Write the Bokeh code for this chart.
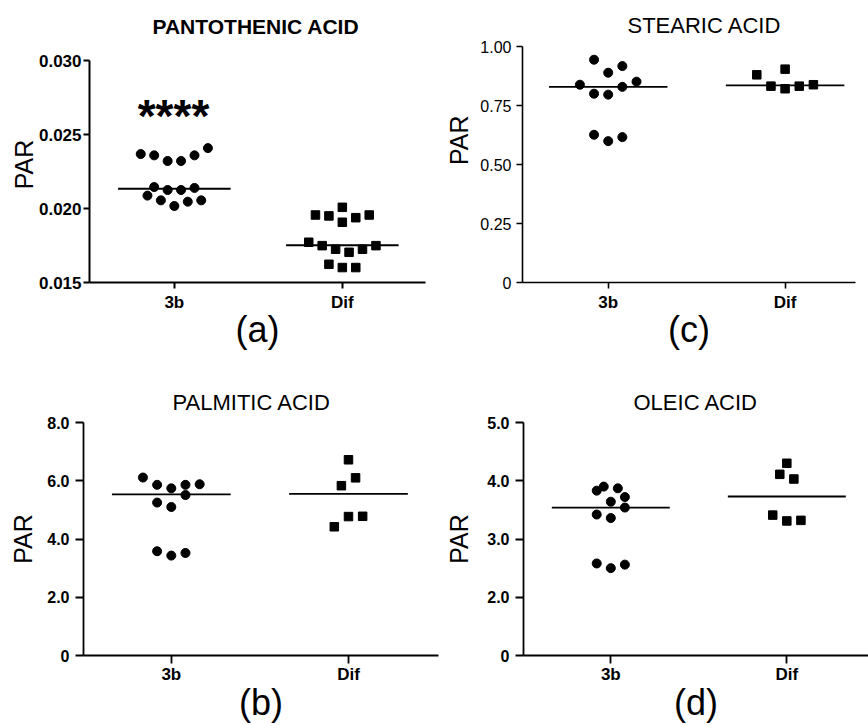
import math
from bokeh.plotting import figure
from bokeh.models import FixedTicker, Label
from bokeh.layouts import column, row
from bokeh.embed import file_html
from bokeh.resources import INLINE

# ---------------- data ----------------
groups = ["3b", "Dif"]

# (a) Pantothenic acid
pan_3b = [0.02368, 0.02359, 0.02321, 0.02321, 0.02359, 0.02408,
          0.02145, 0.02125, 0.02125, 0.02139,
          0.02087, 0.02055, 0.02017, 0.02046, 0.02055]
pan_3b_slot = [-5, -3, -1, 1, 3, 5, -3, -1, 1, 3, -4, -2, 0, 2, 4]
pan_dif = [0.01956, 0.01950, 0.02008, 0.01907, 0.01938, 0.01956,
           0.01772, 0.01749, 0.01725, 0.01704, 0.01725, 0.01749,
           0.01623, 0.01601, 0.01601]
pan_dif_slot = [-4, -2, 0, 0, 2, 4, -5, -3, -1, 1, 3, 5, -2, 0, 2]
pan_median = [0.02134, 0.01752]
pan_ticks = [0.015, 0.020, 0.025, 0.030]
pan_tick_labels = ["0.015", "0.020", "0.025", "0.030"]

# (c) Stearic acid
ste_3b = [0.944, 0.889, 0.917, 0.838, 0.829, 0.851, 0.800, 0.796, 0.626, 0.599, 0.616]
ste_3b_slot = [-2, 0, 2, -4, 2, 4, -2, 0, -2, 0, 2]
ste_dif = [0.880, 0.904, 0.832, 0.821, 0.832, 0.838]
ste_dif_slot = [-4, 0, -2, 0, 2, 4]
ste_median = [0.829, 0.835]
ste_ticks = [0, 0.25, 0.50, 0.75, 1.00]
ste_tick_labels = ["0", "0.25", "0.50", "0.75", "1.00"]

# (b) Palmitic acid
pal_3b = [6.11, 5.86, 5.74, 5.86, 5.88, 5.51, 5.25, 5.10, 3.58, 3.43, 3.52]
pal_3b_slot = [-4, -2, 0, 2, 4, 2, -2, 0, -2, 0, 2]
pal_dif = [6.72, 5.83, 6.10, 4.77, 4.78, 4.42]
pal_dif_slot = [0, -1, 1, 0, 2, -2]
pal_median = [5.53, 5.55]
pal_ticks = [0, 2, 4, 6, 8]
pal_tick_labels = ["0", "2.0", "4.0", "6.0", "8.0"]

# (d) Oleic acid
ole_3b = [3.83, 3.90, 3.87, 3.72, 3.64, 3.54, 3.42, 3.36, 2.58, 2.50, 2.56]
ole_3b_slot = [-2, -1, 1, 2, 0, 2, -2, 0, -2, 0, 2]
ole_dif = [4.30, 4.11, 4.03, 3.41, 3.31, 3.32]
ole_dif_slot = [0, -1, 1, -2, 0, 2]
ole_median = [3.54, 3.73]
ole_ticks = [1, 2, 3, 4, 5]
ole_tick_labels = ["0", "2.0", "3.0", "4.0", "5.0"]

titles = ["PANTOTHENIC ACID", "STEARIC ACID", "PALMITIC ACID", "OLEIC ACID"]
letters = ["(a)", "(c)", "(b)", "(d)"]
y_label = "PAR"
signif = "****"

# ---------------- styling ----------------
FONT = "Liberation Sans"
SLOT = 0.04
HALF = 0.335
NBSP = "\u00a0"


def make_panel(cfg):
    w, h = cfg["size"]
    bl, br, bt, bb = cfg["borders"]
    x0, x1 = cfg["xr"]
    y0, y1 = cfg["yr"]
    ox, oy = cfg["origin"]
    fw = w - bl - br
    fh = h - bt - bb

    def to_data(px, py):
        dx = x0 + (px - ox - bl) / fw * (x1 - x0)
        dy = y1 - (py - oy - bt) / fh * (y1 - y0)
        return dx, dy

    p = figure(width=w, height=h, x_range=(x0, x1), y_range=(y0, y1),
               output_backend="svg", toolbar_location=None,
               min_border_left=bl, min_border_right=br,
               min_border_top=bt, min_border_bottom=bb, title=cfg["title"])
    p.outline_line_color = None
    p.grid.visible = False
    p.background_fill_color = "white"
    p.border_fill_color = "white"

    p.title.align = "left"
    p.title.offset = cfg["title_offset"]
    p.title.standoff = cfg["title_standoff"]
    p.title.vertical_align = "bottom"
    p.title.text_font = FONT
    p.title.text_font_size = cfg["title_size"]
    p.title.text_font_style = cfg["title_style"]
    p.title.text_color = "black"

    xa = p.below[0]
    ya = p.left[0]
    for ax in (xa, ya):
        ax.axis_line_width = cfg["axis_w"]
        ax.axis_line_color = "black"
        ax.major_tick_line_width = cfg["axis_w"]
        ax.major_tick_line_color = "black"
        ax.major_tick_out = cfg["tick_len"]
        ax.major_tick_in = 0
        ax.minor_tick_line_color = None
        ax.major_label_text_color = "black"
        ax.major_label_text_font = FONT
        ax.axis_label_text_font = FONT
        ax.axis_label_text_font_style = "normal"
        ax.axis_label_text_color = "black"

    xa.ticker = FixedTicker(ticks=[1, 2])
    xa.major_label_overrides = {i + 1: g for i, g in enumerate(groups)}
    xa.major_label_text_font_size = "17px"
    xa.major_label_text_font_style = "bold"
    xa.major_label_standoff = cfg["xstand"]
    xa.axis_label = cfg["letter"]
    xa.axis_label_text_font_size = "36px"
    xa.axis_label_standoff = cfg["letter_standoff"]

    ya.ticker = FixedTicker(ticks=cfg["ticks"])
    ya.major_label_overrides = dict(zip(cfg["ticks"], cfg["tick_labels"]))
    ya.major_label_text_font_size = cfg["ytick_size"]
    ya.major_label_text_font_style = cfg["ytick_style"]
    ya.major_label_standoff = cfg["ystand"]
    ya.bounds = (cfg["ticks"][0], cfg["ticks"][-1])
    # leading no-break spaces shift the centred rotated title upward
    ya.axis_label = NBSP * cfg.get("ylabel_shift", 0) + y_label
    ya.axis_label_text_font_size = "25px"
    ya.axis_label_standoff = cfg["ylabel_standoff"]

    v3, s3, vd, sd = cfg["data"]
    p.scatter(x=[1 + s * SLOT for s in s3], y=v3, marker="circle",
              size=9, color="black")
    p.scatter(x=[2 + s * SLOT for s in sd], y=vd, marker="square",
              size=8.5, color="black")
    med = cfg["median"]
    p.segment(x0=[1 - HALF, 2 - HALF], x1=[1 + HALF, 2 + HALF],
              y0=med, y1=med, line_width=cfg["med_w"], color="black")

    if cfg.get("signif_px"):
        sx, sy = to_data(*cfg["signif_px"])
        p.add_layout(Label(x=sx, y=sy, text=signif, text_font=FONT,
                           text_font_size="46px", text_font_style="bold",
                           text_align="center", text_baseline="alphabetic",
                           text_color="black"))
    return p


# panel (a): frame extends above 0.030 to share the row's top edge,
# the y axis line itself is bounded to 0.015..0.030
pa = make_panel(dict(
    size=(440, 362), borders=(89, 15, 46, 80), xr=(0.495, 2.495),
    yr=(0.015, 0.030 + 14 / 14800), origin=(0, 0),
    ticks=pan_ticks, tick_labels=pan_tick_labels,
    ytick_size="17px", ytick_style="bold", ystand=2, xstand=4,
    axis_w=2, tick_len=6, med_w=2,
    data=(pan_3b, pan_3b_slot, pan_dif, pan_dif_slot), median=pan_median,
    title=titles[0], title_size="21px", title_style="bold",
    title_offset=63, title_standoff=17,
    letter=letters[0], letter_standoff=-6, ylabel_standoff=-2,
    ylabel_shift=0, signif_px=(173, 115.3)))

pc = make_panel(dict(
    size=(428, 362), borders=(82, 13, 46, 80), xr=(0.5155, 2.398),
    yr=(0.0, 1.0), origin=(440, 0),
    ticks=ste_ticks, tick_labels=ste_tick_labels,
    ytick_size="16px", ytick_style="normal", ystand=5, xstand=4,
    axis_w=1.6, tick_len=6, med_w=1.8,
    data=(ste_3b, ste_3b_slot, ste_dif, ste_dif_slot), median=ste_median,
    title=titles[1], title_size="22px", title_style="normal",
    title_offset=105, title_standoff=17,
    letter=letters[1], letter_standoff=-6, ylabel_standoff=4,
    ylabel_shift=7))

pb = make_panel(dict(
    size=(440, 363), borders=(83, 2, 60, 67), xr=(0.5045, 2.508),
    yr=(0.0, 8.0), origin=(0, 362),
    ticks=pal_ticks, tick_labels=pal_tick_labels,
    ytick_size="16px", ytick_style="bold", ystand=6, xstand=1,
    axis_w=1.8, tick_len=8, med_w=1.8,
    data=(pal_3b, pal_3b_slot, pal_dif, pal_dif_slot), median=pal_median,
    title=titles[2], title_size="22px", title_style="normal",
    title_offset=89, title_standoff=15,
    letter=letters[2], letter_standoff=-5, ylabel_standoff=7))

pd_ = make_panel(dict(
    size=(428, 363), borders=(83, 0, 60, 67), xr=(0.504, 2.464),
    yr=(1.0, 5.0), origin=(440, 362),
    ticks=ole_ticks, tick_labels=ole_tick_labels,
    ytick_size="16px", ytick_style="bold", ystand=6, xstand=1,
    axis_w=1.8, tick_len=8, med_w=1.8,
    data=(ole_3b, ole_3b_slot, ole_dif, ole_dif_slot), median=ole_median,
    title=titles[3], title_size="22px", title_style="normal",
    title_offset=110, title_standoff=15,
    letter=letters[3], letter_standoff=-5, ylabel_standoff=11))

layout = column(row(pa, pc), row(pb, pd_))
open("out.html", "w").write(file_html(layout, INLINE))
